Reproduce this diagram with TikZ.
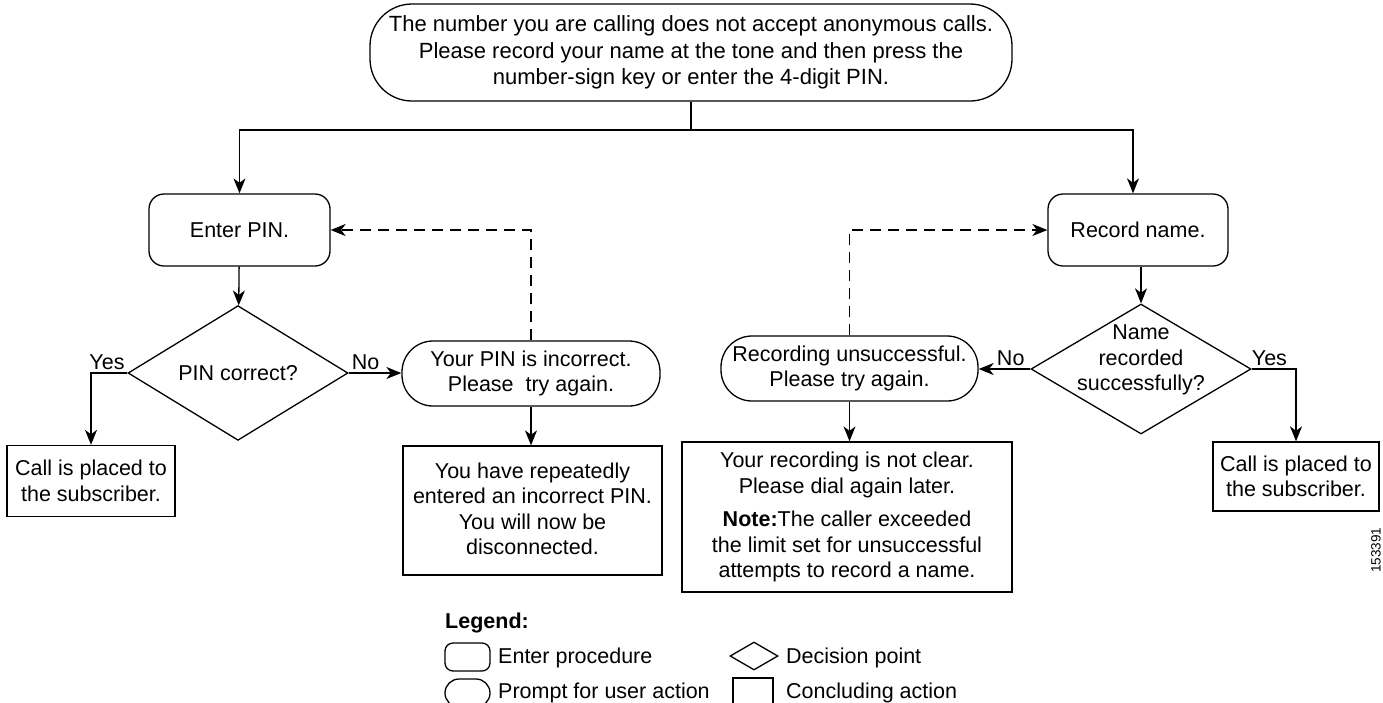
\documentclass[tikz,border=0pt]{standalone}
\usepackage{fontspec}
\setmainfont{Liberation Sans}
\usetikzlibrary{arrows.meta,shapes.geometric}
\begin{document}
\begin{tikzpicture}[x=1pt,y=-1pt,
  every node/.style={font=\fontsize{21.5}{25.5}\selectfont, align=center, inner sep=0pt},
  line/.style={line width=1.3pt},
  arr/.style={line, -{Stealth[length=15pt,width=12pt,inset=4.5pt]}},
  dasharr/.style={arr, dash pattern=on 11pt off 7pt},
  proc/.style={draw, line width=1.3pt, rounded corners=15pt},
  prompt/.style={draw, line width=1.3pt, rounded corners=31pt},
  concl/.style={draw, line width=1.3pt},
  decision/.style={draw, line width=1.3pt, diamond, minimum width=220pt, minimum height=130pt},
  lbl/.style={font=\fontsize{21.5}{25.5}\selectfont},
  legfont/.style={font=\fontsize{21.5}{26}\selectfont}
]
\useasboundingbox (0,0) rectangle (1383,702);
\clip (0,0) rectangle (1383,702);

% main nodes
\node[draw, line width=1.3pt, rounded corners=42pt, minimum width=642pt, minimum height=97pt, font=\fontsize{22}{26.5}\selectfont]
  (top) at (691,52.5) {The number you are calling does not accept anonymous calls.\\Please record your name at the tone and then press the\\number-sign key or enter the 4-digit PIN.};

\node[proc, minimum width=181pt, minimum height=72pt] (enter) at (239.5,230) {Enter PIN.};
\node[proc, minimum width=180pt, minimum height=72pt] (record) at (1138,230) {Record name.};

\node[decision] (d1) at (238,373) {PIN correct?};
\node[decision] (d2) at (1141,369) {};
\node (d2txt) at (1141,360) {Name\\recorded\\successfully?};

\node[prompt, minimum width=258pt, minimum height=65pt] (pinbad) at (531,373.5) {Your PIN is incorrect.\\Please\ \ try again.};
\node[prompt, minimum width=257pt, minimum height=65pt] (recbad) at (849.5,368.5) {Recording unsuccessful.\\Please try again.};

\node[concl, minimum width=168pt, minimum height=71pt] (placedL) at (91,481) {Call is placed to\\the subscriber.};
\node[concl, minimum width=166pt, minimum height=69pt] (placedR) at (1296,476.5) {Call is placed to\\the subscriber.};

\node[concl, minimum width=259pt, minimum height=129pt, text depth=4pt] (disc) at (532.5,510.5) {You have repeatedly\\entered an incorrect PIN.\\You will now be\\disconnected.};
\node[concl, minimum width=330pt, minimum height=150pt] (note) at (847,517) {Your recording is not clear.\\Please dial again later.\\[8pt]\textbf{Note:}The caller exceeded\\the limit set for unsuccessful\\attempts to record a name.};

% connectors
\coordinate (split) at (691,130);
\draw[line] (top.south) -- (split);
\draw[arr] (split) -| (enter.north);
\draw[arr] (split) -| ([xshift=-5pt]record.north);
\draw[arr] (enter) -- (d1);
\draw[arr] (record.south -| d2.north) -- (d2.north);

\draw[arr] (d1.east) -- node[pos=0.32, above=3pt, lbl]{No} (d1.east -| pinbad.west);
\draw[arr] (d1.west) -| node[pos=0.28, above=3pt, lbl]{Yes} (placedL.north);
\draw[arr] (pinbad.south) -- (pinbad.south |- disc.north);
\draw[dasharr] (pinbad.north) |- (enter.east);

\draw[arr] (d2.west) -- node[pos=0.38, above=3pt, lbl]{No} (d2.west -| recbad.east);
\draw[arr] (d2.east) -| node[pos=0.2, above=3pt, lbl]{Yes} (placedR.north);
\draw[arr] (recbad.south) -- (recbad.south |- note.north);
\draw[dasharr] (recbad.north) |- (record.west);

% figure number
\node[rotate=90, font=\fontsize{13.5}{16}\selectfont] (fignum) at (1376,550) {153391};

% legend
\node[anchor=west, font=\fontsize{21.5}{26}\selectfont\bfseries] (legtitle) at (445,623) {Legend:};
\node[draw, line width=1.3pt, rounded corners=8pt, minimum width=45pt, minimum height=28pt] (lg1) at (467.5,657) {};
\node[anchor=west, legfont] (lt1) at (498,658) {Enter procedure};
\node[draw, line width=1.3pt, rounded corners=14pt, minimum width=45pt, minimum height=28pt] (lg2) at (467.5,693) {};
\node[anchor=west, legfont] (lt2) at (498,693) {Prompt for user action};
\node[draw, line width=1.3pt, diamond, minimum width=48pt, minimum height=28pt] (lg3) at (754,656) {};
\node[anchor=west, legfont] (lt3) at (786,658) {Decision point};
\node[draw, line width=1.3pt, minimum width=40pt, minimum height=40pt] (lg4) at (753,698) {};
\node[anchor=west, legfont] (lt4) at (786,693) {Concluding action};
\end{tikzpicture}
\end{document}
